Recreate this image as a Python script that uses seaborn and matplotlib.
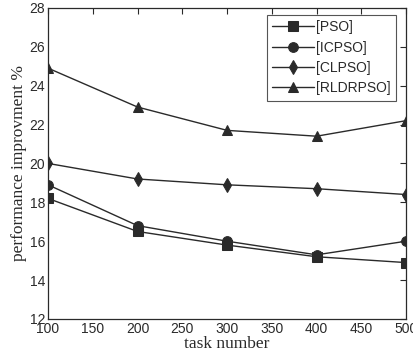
import numpy as np
import pandas as pd
import matplotlib
matplotlib.use("Agg")
import matplotlib.pyplot as plt
import seaborn as sns

# ── Data ───────────────────────────────────────────────────────────────────────
task_number = [100, 200, 300, 400, 500]
pso = [18.2, 16.5, 15.8, 15.2, 14.9]
icpso = [18.9, 16.8, 16.0, 15.3, 16.0]
clpso = [20.0, 19.2, 18.9, 18.7, 18.4]
rldrpso = [24.9, 22.9, 21.7, 21.4, 22.2]
series_names = ["[PSO]", "[ICPSO]", "[CLPSO]", "[RLDRPSO]"]

INK = "#2a2a2a"

df = pd.concat([
    pd.DataFrame({"task": task_number, "value": vals, "method": name})
    for name, vals in zip(series_names, [pso, icpso, clpso, rldrpso])
])

sns.set_theme(style="white")
plt.rcParams["font.family"] = ["Liberation Sans", "DejaVu Sans"]

fig = plt.figure(figsize=(4.14, 3.58), dpi=100, facecolor="white")
ax = fig.add_axes([0.116, 0.109, 0.865, 0.869])

sns.lineplot(data=df, x="task", y="value", hue="method", style="method",
             palette=[INK] * 4, dashes=False, markers=["s", "o", "d", "^"],
             markersize=7, linewidth=1.0, markeredgecolor=INK, ax=ax)

ax.set_xlim(100, 500)
ax.set_ylim(12, 28)
ax.set_xticks(np.arange(100, 501, 50))
ax.set_yticks(np.arange(12, 29, 2))
ax.tick_params(direction="in", top=True, right=True, length=4, width=0.8,
               colors=INK, labelsize=10, pad=2)
for s in ax.spines.values():
    s.set_color(INK)
    s.set_linewidth(0.9)

ax.set_xlabel("task number", fontsize=12.5, family="Liberation Serif", color=INK, labelpad=0)
ax.set_ylabel("performance improvment %", fontsize=12.5, family="Liberation Serif",
              color=INK, labelpad=2)

leg = ax.legend(loc="upper right", fontsize=10, frameon=True, fancybox=False,
                edgecolor=INK, handlelength=3.0, borderpad=0.4, labelspacing=0.45,
                handletextpad=0.15, borderaxespad=0, bbox_to_anchor=(0.972, 0.978))
leg.get_frame().set_linewidth(0.8)
for t in leg.get_texts():
    t.set_color(INK)

fig.savefig("out.png", dpi=100, facecolor="white")
plt.close()
